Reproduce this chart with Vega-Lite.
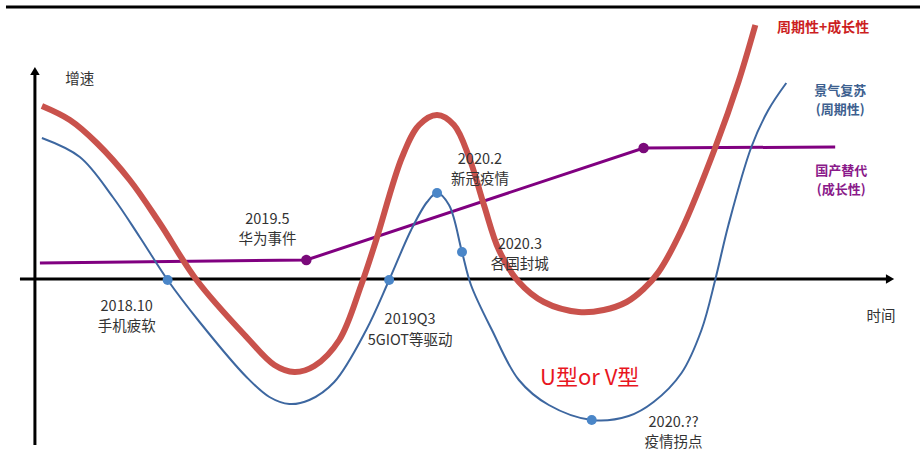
{
  "$schema": "https://vega.github.io/schema/vega-lite/v6.json",
  "width": 922,
  "height": 456,
  "autosize": {"type": "fit", "contains": "padding"},
  "padding": 0,
  "background": "white",
  "config": {"view": {"stroke": null}, "font": "Noto Sans CJK SC"},
  "encoding": {
    "x": {"field": "x", "type": "quantitative", "scale": {"domain": [0, 922], "nice": false, "zero": false}, "axis": null},
    "y": {"field": "y", "type": "quantitative", "scale": {"domain": [-176, 280], "nice": false, "zero": false}, "axis": null}
  },
  "layer": [
    {
      "data": {"values": [{"x": 6, "x2": 922, "y": 273}]},
      "mark": {"type": "rule", "color": "black", "strokeWidth": 3},
      "encoding": {"x2": {"field": "x2"}}
    },
    {
      "data": {"values": [{"x": 35, "y": -165, "y2": 208}]},
      "mark": {"type": "rule", "color": "black", "strokeWidth": 3},
      "encoding": {"y2": {"field": "y2"}}
    },
    {
      "data": {"values": [{"x": 20, "x2": 890, "y": 1}]},
      "mark": {"type": "rule", "color": "black", "strokeWidth": 3},
      "encoding": {"x2": {"field": "x2"}}
    },
    {
      "data": {"values": [{"x": 35, "y": 209}]},
      "mark": {"type": "point", "shape": "triangle-up", "filled": true, "color": "black", "opacity": 1, "size": 90}
    },
    {
      "data": {"values": [{"x": 892, "y": 1}]},
      "mark": {"type": "point", "shape": "triangle-right", "filled": true, "color": "black", "opacity": 1, "size": 90}
    },
    {
      "data": {"values": [
        {"x": 40, "y": 17}, {"x": 307, "y": 20}, {"x": 645, "y": 132}, {"x": 837, "y": 133}
      ]},
      "mark": {"type": "line", "color": "#800080", "strokeWidth": 3}
    },
    {
      "data": {"values": [
        {"x": 42, "y": 142}, {"x": 80, "y": 123}, {"x": 113, "y": 83}, {"x": 140, "y": 43},
        {"x": 168, "y": 0}, {"x": 200, "y": -42}, {"x": 247, "y": -97},
        {"x": 270, "y": -117}, {"x": 290, "y": -124}, {"x": 310, "y": -120}, {"x": 335, "y": -102},
        {"x": 367, "y": -50}, {"x": 390, "y": 0}, {"x": 412, "y": 50}, {"x": 428, "y": 78},
        {"x": 438, "y": 87}, {"x": 450, "y": 75}, {"x": 463, "y": 28}, {"x": 472, "y": -5},
        {"x": 493, "y": -50}, {"x": 520, "y": -100}, {"x": 550, "y": -125}, {"x": 593, "y": -140},
        {"x": 630, "y": -136}, {"x": 655, "y": -122}, {"x": 683, "y": -93}, {"x": 703, "y": -50},
        {"x": 717, "y": 1}, {"x": 730, "y": 55}, {"x": 753, "y": 133}, {"x": 770, "y": 170},
        {"x": 788, "y": 197}
      ]},
      "mark": {"type": "line", "color": "#3d67a0", "strokeWidth": 2, "interpolate": "catmull-rom"}
    },
    {
      "data": {"values": [
        {"x": 42, "y": 174}, {"x": 70, "y": 160}, {"x": 97, "y": 137}, {"x": 130, "y": 100},
        {"x": 160, "y": 57}, {"x": 197, "y": 0}, {"x": 247, "y": -57}, {"x": 275, "y": -85},
        {"x": 295, "y": -92}, {"x": 315, "y": -86}, {"x": 340, "y": -60}, {"x": 362, "y": -5},
        {"x": 377, "y": 40}, {"x": 403, "y": 123}, {"x": 420, "y": 155},
        {"x": 438, "y": 165}, {"x": 455, "y": 155}, {"x": 470, "y": 123}, {"x": 485, "y": 75},
        {"x": 500, "y": 30}, {"x": 520, "y": -2}, {"x": 545, "y": -22},
        {"x": 580, "y": -32}, {"x": 605, "y": -30}, {"x": 628, "y": -22}, {"x": 645, "y": -9},
        {"x": 660, "y": 8}, {"x": 683, "y": 50}, {"x": 717, "y": 133}, {"x": 740, "y": 198}, {"x": 757, "y": 255}
      ]},
      "mark": {"type": "line", "color": "#c9524c", "strokeWidth": 6, "interpolate": "catmull-rom"}
    },
    {
      "data": {"values": [
        {"x": 168, "y": 0}, {"x": 390, "y": 0}, {"x": 438, "y": 87}, {"x": 463, "y": 28}, {"x": 593, "y": -140}
      ]},
      "mark": {"type": "point", "filled": true, "color": "#4a86c8", "opacity": 1, "size": 100}
    },
    {
      "data": {"values": [{"x": 307, "y": 20}, {"x": 645, "y": 132}]},
      "mark": {"type": "point", "filled": true, "color": "#7a0a7a", "opacity": 1, "size": 110}
    },
    {
      "data": {"values": [
        {"x": 127, "y": -27, "t": "2018.10"}, {"x": 127, "y": -47, "t": "手机疲软"},
        {"x": 268, "y": 60, "t": "2019.5"}, {"x": 268, "y": 40, "t": "华为事件"},
        {"x": 481, "y": 120, "t": "2020.2"}, {"x": 481, "y": 100, "t": "新冠疫情"},
        {"x": 521, "y": 35, "t": "2020.3"}, {"x": 521, "y": 15, "t": "各国封城"},
        {"x": 411, "y": -40, "t": "2019Q3"}, {"x": 411, "y": -61, "t": "5GIOT等驱动"},
        {"x": 675, "y": -143, "t": "2020.??"}, {"x": 675, "y": -163, "t": "疫情拐点"},
        {"x": 883, "y": -37, "t": "时间"}, {"x": 80, "y": 200, "t": "增速"}
      ]},
      "mark": {"type": "text", "color": "#333333", "fontSize": 14.5, "align": "center", "baseline": "middle"},
      "encoding": {"text": {"field": "t"}}
    },
    {
      "data": {"values": [{"x": 591, "y": -98, "t": "U型or V型"}]},
      "mark": {"type": "text", "color": "#e8161e", "fontSize": 22, "align": "center", "baseline": "middle"},
      "encoding": {"text": {"field": "t"}}
    },
    {
      "data": {"values": [{"x": 825, "y": 252, "t": "周期性+成长性"}]},
      "mark": {"type": "text", "color": "#cc1f1f", "fontSize": 14, "fontWeight": "bold", "align": "center", "baseline": "middle"},
      "encoding": {"text": {"field": "t"}}
    },
    {
      "data": {"values": [{"x": 842, "y": 189, "t": "景气复苏"}, {"x": 842, "y": 170, "t": "(周期性)"}]},
      "mark": {"type": "text", "color": "#3d5f8f", "fontSize": 13, "fontWeight": "bold", "align": "center", "baseline": "middle"},
      "encoding": {"text": {"field": "t"}}
    },
    {
      "data": {"values": [{"x": 843, "y": 109, "t": "国产替代"}, {"x": 843, "y": 90, "t": "(成长性)"}]},
      "mark": {"type": "text", "color": "#8a1a8a", "fontSize": 13, "fontWeight": "bold", "align": "center", "baseline": "middle"},
      "encoding": {"text": {"field": "t"}}
    }
  ]
}
